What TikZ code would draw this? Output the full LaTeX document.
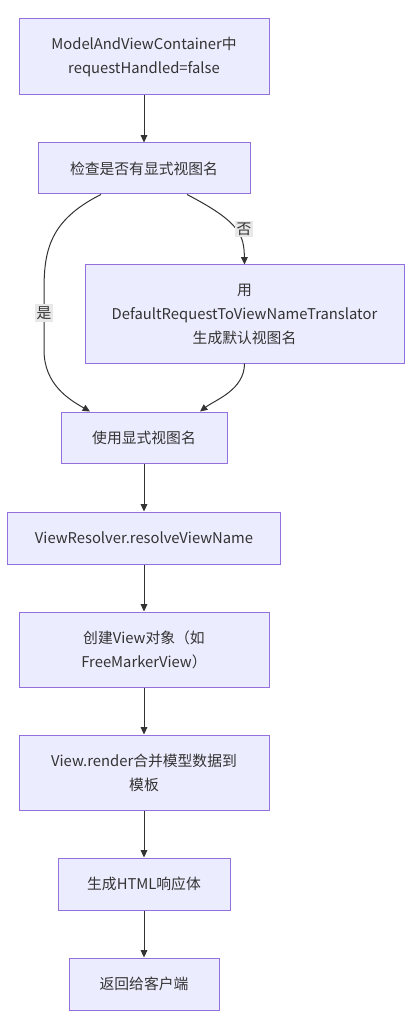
\documentclass[tikz,border=0pt]{standalone}
\usepackage{fontspec}
\setmainfont{Noto Sans CJK SC}
\usetikzlibrary{arrows.meta}
\definecolor{boxfill}{HTML}{ECECFF}
\definecolor{boxborder}{HTML}{9370DB}
\definecolor{linecol}{HTML}{333333}
\definecolor{labelbg}{HTML}{E8E8E8}
\newcommand\pxu[1]{#1*0.75pt}
\tikzset{
  box/.style={draw=boxborder, fill=boxfill, line width=0.75pt, inner sep=0pt,
    align=center, text=linecol, font=\fontsize{11.1pt}{18pt}\selectfont},
  flow/.style={draw=linecol, line width=0.75pt, -{Triangle[length=5.5pt,width=5pt]}},
  elabel/.style={fill=labelbg, inner sep=1.5pt, text=linecol, font=\fontsize{11.1pt}{14pt}\selectfont}
}
\begin{document}
\begin{tikzpicture}[x=0.75pt,y=-0.75pt]
\useasboundingbox[fill=white] (0,0) rectangle (412,1030);
\node[box, minimum width=\pxu{250}, minimum height=\pxu{76}] (b1) at (144,57) {ModelAndViewContainer中\\requestHandled=false};
\node[box, minimum width=\pxu{212}, minimum height=\pxu{51}] (b2) at (144,168.5) {检查是否有显式视图名};
\node[box, minimum width=\pxu{319}, minimum height=\pxu{98}] (b3) at (244.5,314) {用\\DefaultRequestToViewNameTranslator\\生成默认视图名};
\node[box, minimum width=\pxu{166}, minimum height=\pxu{51}] (b4) at (144,437.5) {使用显式视图名};
\node[box, minimum width=\pxu{273}, minimum height=\pxu{52}] (b5) at (144,538) {ViewResolver.resolveViewName};
\node[box, minimum width=\pxu{250}, minimum height=\pxu{75}] (b6) at (144,649.5) {创建View对象（如\\FreeMarkerView）};
\node[box, minimum width=\pxu{250}, minimum height=\pxu{75}] (b7) at (144,772.5) {View.render合并模型数据到\\模板};
\node[box, minimum width=\pxu{172}, minimum height=\pxu{52}] (b8) at (144,884) {生成HTML响应体};
\node[box, minimum width=\pxu{150}, minimum height=\pxu{52}] (b9) at (144,984) {返回给客户端};

\draw[flow] (b1.south) -- (b2.north);
\draw[flow] ([xshift=\pxu{43}]b2.south) .. controls (240,222) and (244,235) .. (b3.north);
\draw[flow] ([xshift=\pxu{-43}]b2.south) .. controls (50,220) and (44,250) .. (44,290) -- (44,350) .. controls (44,385) and (70,400) .. ([xshift=\pxu{-54}]b4.north);
\draw[flow] (b3.south) .. controls (244.5,390) and (215,400) .. ([xshift=\pxu{56}]b4.north);
\draw[flow] (b4.south) -- (b5.north);
\draw[flow] (b5.south) -- (b6.north);
\draw[flow] (b6.south) -- (b7.north);
\draw[flow] (b7.south) -- (b8.north);
\draw[flow] (b8.south) -- (b9.north);
\node[elabel] (l1) at (244,229) {否};
\node[elabel] (l2) at (44,313) {是};
\end{tikzpicture}
\end{document}
